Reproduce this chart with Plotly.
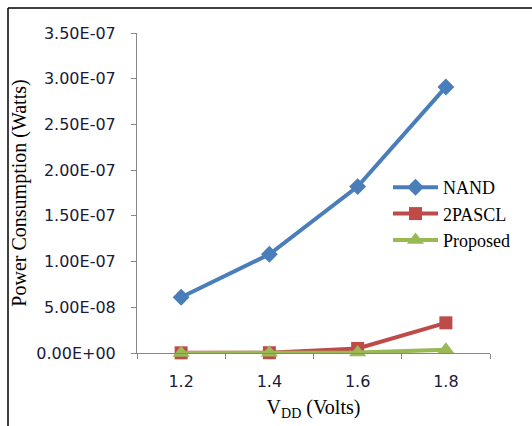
import plotly.graph_objects as go

vdd = ["1.2", "1.4", "1.6", "1.8"]
nand = [6.1e-8, 1.08e-7, 1.82e-7, 2.91e-7]
pascl = [0.2e-9, 0.3e-9, 5.0e-9, 3.3e-8]
proposed = [0.1e-9, 0.15e-9, 0.5e-9, 3.5e-9]

ytick_vals = [0, 5e-8, 1e-7, 1.5e-7, 2e-7, 2.5e-7, 3e-7, 3.5e-7]
ytick_text = ["0.00E+00", "5.00E-08", "1.00E-07", "1.50E-07", "2.00E-07",
              "2.50E-07", "3.00E-07", "3.50E-07"]

fig = go.Figure()
fig.add_trace(go.Scatter(x=vdd, y=nand, name="NAND", mode="lines+markers",
                         line=dict(color="#4a7ebb", width=4),
                         marker=dict(symbol="diamond", size=13, color="#4a7ebb"),
                         cliponaxis=False))
fig.add_trace(go.Scatter(x=vdd, y=pascl, name="2PASCL", mode="lines+markers",
                         line=dict(color="#be4b48", width=4),
                         marker=dict(symbol="square", size=13, color="#be4b48"),
                         cliponaxis=False))
fig.add_trace(go.Scatter(x=vdd, y=proposed, name="Proposed", mode="lines+markers",
                         line=dict(color="#98b954", width=4),
                         marker=dict(symbol="triangle-up", size=15, color="#98b954"),
                         cliponaxis=False))

W, H = 532, 426
L, R, T, B = 137, 42, 33, 73
pw, ph = W - L - R, H - T - B

fig.update_layout(
    width=W, height=H,
    margin=dict(l=L, r=R, t=T, b=B),
    paper_bgcolor="white", plot_bgcolor="white",
    showlegend=True,
    legend=dict(x=(388 - L) / pw, y=(353 - 169) / ph, xanchor="left", yanchor="top",
                bgcolor="rgba(0,0,0,0)", tracegroupgap=0, itemwidth=45,
                font=dict(family="Liberation Serif", size=18, color="black")),
    xaxis=dict(type="category", range=[-0.5, 3.5], tickson="boundaries",
               ticks="outside", ticklen=5,
               tickcolor="#868686", showline=True, linecolor="#868686", linewidth=1,
               showgrid=False, zeroline=False, ticklabelstandoff=14,
               tickfont=dict(family="DejaVu Sans", size=16, color="#1a1a3a"),
               title=dict(text="V<sub>DD</sub> (Volts)", standoff=9,
                          font=dict(family="Liberation Serif", size=20, color="black"))),
    yaxis=dict(range=[0, 3.5e-7], tickvals=ytick_vals, ticktext=ytick_text,
               ticks="outside", ticklen=5, tickcolor="#868686",
               showline=True, linecolor="#868686", linewidth=1,
               showgrid=False, zeroline=False, ticklabelstandoff=12,
               tickfont=dict(family="DejaVu Sans", size=16, color="#1a1a3a"),
               title=dict(text="Power Consumption (Watts)", standoff=4,
                          font=dict(family="Liberation Serif", size=20, color="black"))),
)

fig.add_shape(type="line", xref="paper", yref="paper",
              x0=(8 - L) / pw, x1=(8 - L) / pw, y0=(353 - 426) / ph, y1=(353 - 8) / ph,
              line=dict(color="black", width=1.5))
fig.add_shape(type="line", xref="paper", yref="paper",
              x0=(8 - L) / pw, x1=(532 - L) / pw, y0=(353 - 8) / ph, y1=(353 - 8) / ph,
              line=dict(color="black", width=1.5))

fig.write_html("out.html", config={"displayModeBar": False},
               post_script="document.body.style.margin='0';document.body.style.overflow='hidden';")
